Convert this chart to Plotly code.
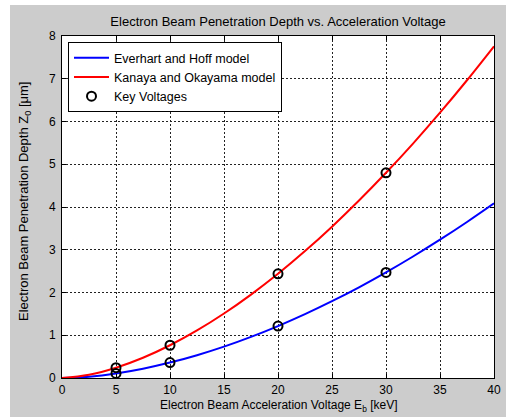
import plotly.graph_objects as go

# Acceleration voltage (keV) sample points
voltage = [0, 2.5, 5, 7.5, 10, 12.5, 15, 17.5, 20, 22.5, 25, 27.5, 30, 32.5, 35, 37.5, 40]
# Everhart and Hoff model depth (um)
everhart = [0, 0.032, 0.107, 0.218, 0.361, 0.534, 0.734, 0.962, 1.215, 1.493, 1.796, 2.121,
            2.47, 2.842, 3.235, 3.650, 4.086]
# Kanaya and Okayama model depth (um)
kanaya = [0, 0.076, 0.241, 0.474, 0.766, 1.112, 1.508, 1.951, 2.437, 2.968, 3.540, 4.151,
          4.80, 5.484, 6.206, 6.965, 7.759]
# Key voltages and corresponding depths
key_v = [5, 10, 20, 30, 5, 10, 20, 30]
key_d = [0.107, 0.361, 1.215, 2.47, 0.241, 0.766, 2.437, 4.80]

x_ticks = [0, 5, 10, 15, 20, 25, 30, 35, 40]
y_ticks = [0, 1, 2, 3, 4, 5, 6, 7, 8]

title_text = "Electron Beam Penetration Depth vs. Acceleration Voltage"
x_title = "Electron Beam Acceleration Voltage E<sub>b</sub> [keV]"
y_title = "Electron Beam Penetration Depth Z<sub>0</sub> [μm]"

FONT = "Arial, Liberation Sans, sans-serif"

fig = go.Figure()
fig.add_trace(go.Scatter(x=voltage, y=everhart, mode="lines", name="Everhart and Hoff model",
                         line=dict(color="#0000ff", width=2, shape="spline")))
fig.add_trace(go.Scatter(x=voltage, y=kanaya, mode="lines", name="Kanaya and Okayama model",
                         line=dict(color="#ff0000", width=2, shape="spline")))
fig.add_trace(go.Scatter(x=key_v, y=key_d, mode="markers", name="Key Voltages",
                         marker=dict(symbol="circle-open", color="black", size=9,
                                     line=dict(width=2, color="black"))))

L, R, T, B = 62, 12, 36, 39
W, H = 506, 417
pw, ph = W - L - R, H - T - B

def px_x(px):
    return (px - L) / pw

def px_y(py):
    return (H - B - py) / ph

axis_common = dict(showline=True, linecolor="black", linewidth=1, mirror="ticks",
                   ticks="inside", ticklen=4, tickcolor="black",
                   showgrid=True, gridcolor="#222222", griddash="2px,2px", gridwidth=1,
                   zeroline=False, automargin=False,
                   tickfont=dict(family=FONT, size=12, color="black"))

fig.update_layout(
    width=W, height=H,
    margin=dict(l=L, r=R, t=T, b=B, autoexpand=False),
    paper_bgcolor="#cccccc", plot_bgcolor="white",
    font=dict(family=FONT, size=12, color="black"),
    title=dict(text=title_text, x=(L + pw / 2) / W, xanchor="center",
               y=1 - 21 / H, yanchor="middle",
               font=dict(family=FONT, size=13, color="black")),
    xaxis=dict(range=[0, 40], tickvals=x_ticks, ticklabelstandoff=1, **axis_common),
    yaxis=dict(range=[0, 8], tickvals=y_ticks, ticklabelstandoff=3, **axis_common),
    legend=dict(x=px_x(68), y=px_y(42), xanchor="left", yanchor="top",
                bgcolor="white", bordercolor="black", borderwidth=1,
                font=dict(family=FONT, size=12.5, color="black"),
                tracegroupgap=0, itemwidth=35),
    showlegend=True,
    annotations=[
        dict(text=x_title, xref="paper", yref="paper", x=px_x(278), y=px_y(406),
             xanchor="center", yanchor="middle", showarrow=False,
             font=dict(family=FONT, size=12, color="black")),
        dict(text=y_title, xref="paper", yref="paper", x=px_x(24), y=px_y(202),
             xanchor="center", yanchor="middle", showarrow=False, textangle=-90,
             font=dict(family=FONT, size=13, color="black")),
    ],
    shapes=[
        dict(type="rect", xref="paper", yref="paper", layer="below",
             x0=px_x(0), x1=px_x(10), y0=px_y(H), y1=px_y(0),
             fillcolor="white", line=dict(width=0)),
        dict(type="rect", xref="paper", yref="paper", layer="below",
             x0=px_x(0), x1=px_x(W), y0=px_y(5), y1=px_y(0),
             fillcolor="white", line=dict(width=0)),
    ],
)

fig.write_html(
    "out.html",
    config={"displayModeBar": False},
    post_script=("document.documentElement.style.overflow='hidden';"
                 "document.body.style.margin='0';"
                 "document.body.style.overflow='hidden';"
                 "var gd=document.getElementById('{plot_id}');"
                 "gd.style.position='fixed';gd.style.left='0px';gd.style.top='0px';"),
)
